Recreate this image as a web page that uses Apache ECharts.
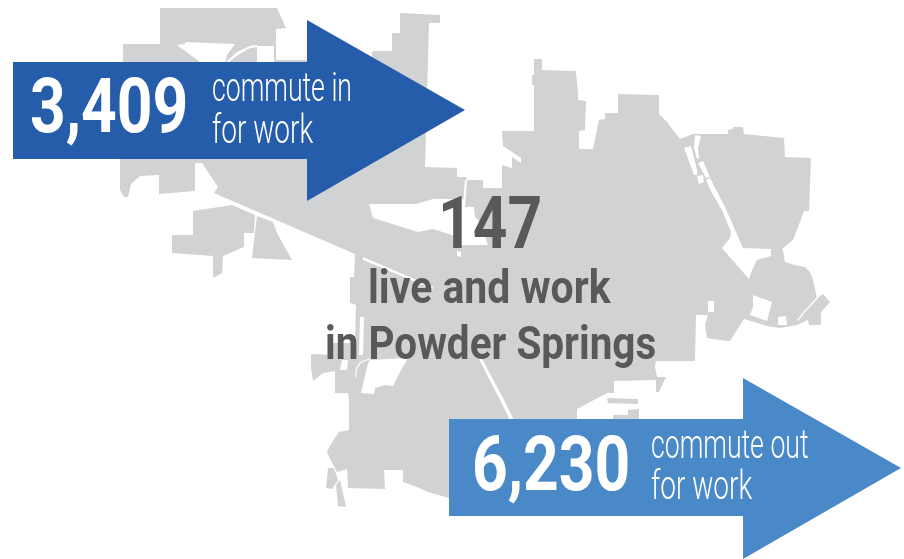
<!DOCTYPE html>
<html>
<head>
<meta charset="utf-8">
<style>html,body{margin:0;padding:0;background:#fff}#chart{width:904px;height:559px}</style>
<script src="https://cdn.jsdelivr.net/npm/echarts@6/dist/echarts.min.js"></script>
</head>
<body>
<div id="chart"></div>
<script>
// commuter counts
var commuteIn = 3409;
var commuteOut = 6230;
var liveAndWork = 147;

// city outline, axis units
var cityMain = [[160,8],[277,8],[286,28],[276,29],[276,60],[372,60],[372,51],[392,51],[392,33],[400,33],[400,13],[440,15],[440,23],[429,23],[425,167],[457,168],[457,177],[466,177],[467,180],[483,180],[483,188],[502,188],[502,165],[512,168],[512,157],[521,163],[521,158],[503,146],[502,131],[534,131],[534,85],[532,85],[532,75],[534,75],[534,59],[542,59],[542,70],[576,71],[578,93],[578,100],[586,101],[585,130],[579,131],[579,149],[593,149],[599,120],[605,119],[605,113],[618,113],[618,94],[659,95],[659,114],[667,122],[680,139],[693,134],[728,134],[728,130],[733,129],[733,127],[743,127],[744,134],[784,138],[785,157],[811,158],[809,211],[804,211],[797,230],[793,240],[782,249],[783,250],[785,262],[795,265],[805,267],[810,272],[813,280],[817,298],[823,294],[830,302],[821,312],[821,325],[809,325],[808,320],[797,325],[780,328],[767,326],[744,319],[742,322],[730,341],[727,341],[707,338],[705,325],[708,315],[696,315],[695,361],[656,361],[655,367],[657,377],[666,377],[659,392],[656,392],[656,380],[614,381],[614,393],[607,393],[577,409],[577,425],[449,425],[449,498],[428,492],[417,487],[403,482],[403,470],[384,470],[385,489],[348,488],[347,469],[337,472],[327,453],[329,447],[339,432],[349,430],[349,400],[348,393],[335,393],[335,371],[323,373],[313,381],[311,368],[311,354],[333,355],[333,343],[355,343],[356,305],[350,303],[350,277],[354,277],[355,254],[214,193],[218,187],[202,163],[195,163],[195,191],[159,194],[159,175],[140,176],[131,184],[128,197],[124,197],[120,190],[120,159],[123,62],[123,44],[160,44]];
var cityWest = [[193,211],[232,205],[255,215],[254,233],[244,233],[244,247],[223,256],[222,273],[213,278],[213,256],[172,253],[172,235],[193,235]];
var cityWest2 = [[257,216],[273,222],[277,233],[292,260],[252,258]];
var citySw1 = [[328,468],[334,468],[338,480],[332,489],[326,488]];
var citySw2 = [[336,485],[340,480],[346,507],[338,506]];
var citySe1 = [[607,398],[638,399],[638,404],[608,403]];
var citySe2 = [[628,410],[639,409],[639,425],[613,425],[613,415],[628,415]];
var cityParts = [cityMain, cityWest, cityWest2, citySw1, citySw2, citySe1, citySe2];

// gaps inside the outline
var gapNorth = [[177,45],[185,44],[185,42],[235,44],[227,55],[225,62],[200,62]];
var gapCurve = [[226,62],[237,52],[250,46],[257,45],[257,47],[250,48],[238,55],[229,62]];
var gapBox = [[257,46],[274,46],[274,64],[257,64]];
var gapCentre = [[369,204],[416,204],[433,199],[463,199],[465,207],[474,207],[475,217],[480,222],[488,245],[461,245],[452,235],[433,229],[418,232],[373,218]];
var gapThin = [[465,180],[467,180],[465,207],[463,205]];
var gapDot = [[457,251],[461,252],[461,257],[457,256]];
var gapLine = [[363,257],[433,287],[433,289],[363,260]];
var gapRiverA = [[684,148],[691,146],[697,170],[697,175],[694,175]];
var gapRiverB = [[695,135],[701,136],[698,148],[699,158],[697,159],[694,148]];
var gapRiverC = [[698,163],[703,161],[710,177],[706,178]];
var gapRiverD = [[697,176],[703,175],[704,182],[699,184]];
var gapRiver = [[706,180],[710,178],[725,207],[743,248],[771,249],[771,256],[757,260],[752,270],[749,279],[722,248],[730,238],[731,232],[722,210],[712,193]];
var gapSquare = [[708,301],[714,301],[714,312],[708,312]];
var gapQuad = [[753,295],[772,302],[767,321],[750,315],[753,307]];
var gapSmall = [[778,317],[786,316],[787,325],[778,325]];
var gapCurveE = [[797,320],[805,310],[818,296],[819,297],[806,311],[798,321]];
var gapStrip = [[360,317],[364,317],[363,355],[359,355]];
var gapNotch = [[342,360],[348,360],[347,370],[340,370]];
var gapSouth = [[370,360],[408,358],[400,372],[393,386],[385,385],[375,388],[374,394],[361,393],[368,363]];
var gapCurveS = [[355,378],[356,368],[360,362],[370,358],[370,359],[361,363],[357,369],[356,378]];
var gapLineS = [[479,359],[482,359],[503,398],[514,420],[510,420],[499,398]];
var cityGaps = [gapNorth, gapCurve, gapBox, gapCentre, gapThin, gapDot, gapLine, gapRiverA, gapRiverB, gapRiverC, gapRiverD, gapRiver, gapSquare, gapQuad, gapSmall, gapCurveE, gapStrip, gapNotch, gapSouth, gapCurveS, gapLineS];

// arrows
var arrowIn = [[13,62],[307,62],[307,20],[465,110],[307,201],[307,159],[13,159]];
var arrowOut = [[449,419],[743,419],[743,378],[901,468],[743,559],[743,516],[449,516]];

var fmt = echarts.format.addCommas;
var labelText = [fmt(commuteIn), 'commute in', 'for work', String(liveAndWork), 'live and work', 'in Powder Springs', fmt(commuteOut), 'commute out', 'for work'];
var labelX = [30, 212, 212, 438, 368, 325, 472, 651, 651];
var labelY = [113, 91, 133, 230, 291, 347, 471, 448, 489];
var labelFont = [
    'bold 76px Roboto', '300 40px Roboto', '300 40px Roboto',
    'bold 72px Roboto', 'bold 46px Roboto', 'bold 46px Roboto',
    'bold 76px Roboto', '300 40px Roboto', '300 40px Roboto'
];
var labelScale = [0.82, 0.666, 0.7, 0.84, 0.89, 0.88, 0.82, 0.666, 0.7];
var labelColor = ['#fff', '#fff', '#fff', '#58595b', '#58595b', '#58595b', '#fff', '#fff', '#fff'];

function shapeSeries(shapes, colors) {
    return {
        type: 'custom',
        coordinateSystem: 'cartesian2d',
        silent: true,
        animation: false,
        clip: false,
        data: shapes.map(function (s, i) { return [i]; }),
        encode: { x: 0, y: 0 },
        renderItem: function (params, api) {
            var pts = shapes[params.dataIndex].map(function (p) { return api.coord(p); });
            return { type: 'polygon', shape: { points: pts }, style: { fill: colors[params.dataIndex] || colors[0] } };
        }
    };
}

var myChart = echarts.init(document.getElementById('chart'), null, { renderer: 'canvas' });
myChart.setOption({
    animation: false,
    backgroundColor: '#fff',
    grid: { left: 0, right: 0, top: 0, bottom: 0 },
    xAxis: { type: 'value', min: 0, max: 904, show: false },
    yAxis: { type: 'value', min: 0, max: 559, inverse: true, show: false },
    series: [
        shapeSeries(cityParts, ['#d1d2d4']),
        shapeSeries(cityGaps, ['#fff']),
        shapeSeries([arrowIn, arrowOut], ['#265dab', '#4a89c8']),
        {
            type: 'custom',
            coordinateSystem: 'cartesian2d',
            silent: true,
            animation: false,
            clip: false,
            data: labelText.map(function (t, i) { return [labelX[i], labelY[i]]; }),
            encode: { x: 0, y: 1 },
            renderItem: function (params, api) {
                var i = params.dataIndex;
                var p = api.coord([api.value(0), api.value(1)]);
                return {
                    type: 'text',
                    x: p[0],
                    y: p[1],
                    scaleX: labelScale[i],
                    style: { text: labelText[i], font: labelFont[i], fill: labelColor[i], textAlign: 'left', textVerticalAlign: 'middle' }
                };
            }
        }
    ]
});
</script>
</body>
</html>
